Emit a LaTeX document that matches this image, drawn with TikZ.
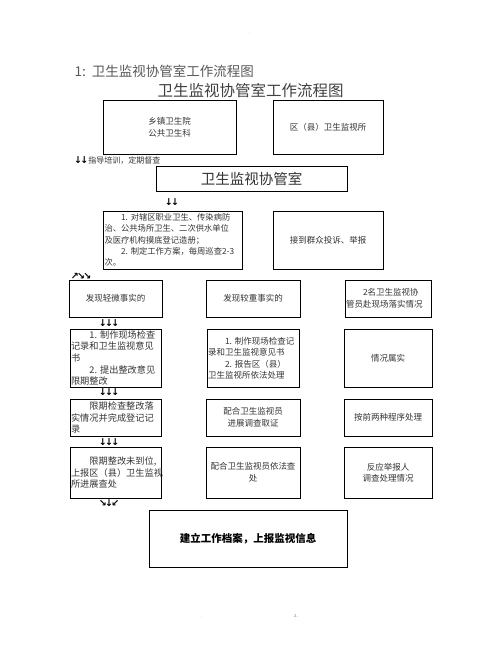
\documentclass[tikz,border=0pt]{standalone}
\usepackage{fontspec}
\setmainfont{Liberation Sans}
\newfontfamily\cjk{Noto Sans CJK SC}
\newfontfamily\arr[LetterSpace=-18]{DejaVu Sans}
\usetikzlibrary{positioning}
\newcommand{\ind}{\hspace*{2em}}
\tikzset{
  box/.style={draw, line width=0.8pt, inner sep=1pt, align=center, text=black!80,
    font=\cjk\fontsize{8.5}{11.5}\selectfont},
  lbox/.style={box, align=left, font=\cjk\fontsize{9.2}{11.6}\selectfont},
  arw/.style={inner sep=0pt, text=black, font=\arr\bfseries\fontsize{9.5}{10}\selectfont},
}

\begin{document}
\begin{tikzpicture}[x=1pt, y=-1pt]
    \useasboundingbox (0,0) rectangle (502,649);
    % headings
    \node[text=black!65, font=\cjk\fontsize{13.5}{14}\selectfont, anchor=west] (head) at (71,71) {1:\ \ 卫生监视协管室工作流程图};
    \node[text=black!75, font=\cjk\fontsize{15.5}{16}\selectfont] (title) at (250.5,91) {卫生监视协管室工作流程图};
    % top row
    \node[box, minimum width=133, minimum height=54] (xz) at (169.5,127) {乡镇卫生院\\公共卫生科};
    \node[box, minimum width=110, minimum height=54] (qx) at (328,127) {区（县）卫生监视所};
    \node[anchor=west, inner sep=0pt] (zd) at (74,160) {{\arr\bfseries\fontsize{9.5}{10}\selectfont ↓↓}{\cjk\fontsize{8}{9}\selectfont\color{black!80}指导培训，定期督查}};
    \node[box, minimum width=191, minimum height=25, font=\cjk\fontsize{14.5}{15}\selectfont] (xgs) at (251.5,178.5) {卫生监视协管室};
    \node[arw] (a1) at (172,202) {↓↓};
    % second row
    \node[lbox, text width=137, minimum height=58, font=\cjk\fontsize{8.3}{11.3}\selectfont] (gz) at (173,240)
      {\ind 1.~对辖区职业卫生、传染病防\\治、公共场所卫生、二次供水单位\\及医疗机构摸底登记造册；\\\ind 2.~制定工作方案，每周巡查2-3\\次。};
    \node[box, minimum width=110, minimum height=58] (ts) at (328,240) {接到群众投诉、举报};
    \node[arw] (a2) at (81,276) {↗↘↘};
    % column A
    \node[box, minimum width=93, minimum height=37] (a3) at (115.5,298.5) {发现轻微事实的};
    \node[arw] (a4) at (109,323) {↓↓↓};
    \node[lbox, text width=89, minimum height=58] (a5) at (115.5,358)
      {\ind 1.~制作现场检查\\记录和卫生监视意见\\书\\\ind 2.~提出整改意见\\限期整改};
    \node[arw] (a6) at (109,392) {↓↓↓};
    \node[lbox, text width=89, minimum height=37] (a7) at (115.5,417.5)
      {\ind 限期检查整改落\\实情况并完成登记记\\录};
    \node[arw] (a8) at (109,442) {↓↓↓};
    \node[lbox, text width=89, minimum height=51] (a9) at (115.5,472.5)
      {\ind 限期整改未到位,\\上报区（县）卫生监视\\所进展查处};
    \node[arw] (a10) at (109,503) {↘↓↙};
    % column B
    \node[box, align=left, text width=90, minimum height=58] (b2) at (253,358)
      {\ind 1.~制作现场检查记\\录和卫生监视意见书\\\ind 2.~报告区（县）\\卫生监视所依法处理};
    \node[box, minimum width=94, minimum height=37] (b1) at (253,298.5) {发现较重事实的};
    \node[box, minimum width=94, minimum height=37] (b3) at (253,417.5) {配合卫生监视员\\进展调查取证};
    \node[box, minimum width=94, minimum height=51] (b4) at (253,472.5) {配合卫生监视员依法查\\处};
    % column C
    \node[box, align=left, text width=84, minimum height=37] (c1) at (388,298.5) {\ind 2名卫生监视协\\管员赴现场落实情况};
    \node[box, minimum width=88, minimum height=58] (c2) at (388,358) {情况属实};
    \node[box, minimum width=88, minimum height=37] (c3) at (388,417.5) {按前两种程序处理};
    \node[box, minimum width=88, minimum height=51] (c4) at (388,472.5) {反应举报人\\调查处理情况};
    % result
    \node[box, minimum width=198, minimum height=57, text=black, font=\cjk\bfseries\fontsize{10.5}{12}\selectfont] (da) at (248,538.5) {建立工作档案，上报监视信息};
    % page marks
    \node[text=black!50, font=\fontsize{4}{4}\selectfont] (m1) at (250,33) {.};
    \node[text=black!50, font=\fontsize{4}{4}\selectfont] (m2) at (202,617) {.};
    \node[text=black!50, font=\fontsize{5}{5}\selectfont] (m3) at (296,616) {z.};
\end{tikzpicture}
\end{document}
